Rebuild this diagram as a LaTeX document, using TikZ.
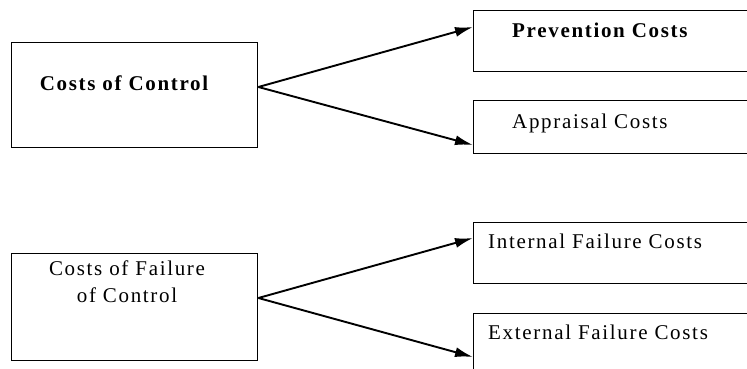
\documentclass[tikz,border=0pt]{standalone}
\usepackage{fontspec}
\setmainfont{Liberation Serif}[LetterSpace=8]
\usetikzlibrary{arrows.meta}
\tikzset{
  box/.style={draw=black, line width=1.4pt, rectangle, inner sep=0pt, anchor=north west},
  lbl/.style={inner sep=0pt, font=\fontsize{21}{27}\selectfont},
  arr/.style={line width=1.9pt, -{Latex[length=18pt,width=10pt]}}
}
\begin{document}
\begin{tikzpicture}[x=1pt,y=-1pt]
\clip (0,0) rectangle (747,369);
\fill[white] (0,0) rectangle (747,369);
% left boxes
\node[box, minimum width=246pt, minimum height=105pt] (cc) at (11,42) {};
\node[box, minimum width=246pt, minimum height=107pt] (cf) at (11,253) {};
% right boxes (open to the right edge)
\node[box, minimum width=300pt, minimum height=61pt] (pc) at (473,10) {};
\node[box, minimum width=300pt, minimum height=53pt] (ac) at (473,100) {};
\node[box, minimum width=300pt, minimum height=61pt] (ic) at (473,222) {};
\node[box, minimum width=300pt, minimum height=80pt] (ec) at (473,313) {};
% texts
\node[lbl, anchor=base, font=\fontsize{21}{27}\selectfont\bfseries] (tcc) at (124,91) {Costs of Control};
\node[lbl, anchor=base, align=center] (tcf) at (127,302) {Costs of Failure\\of Control};
\node[lbl, anchor=base west, font=\fontsize{21}{27}\selectfont\bfseries] (tpc) at (512,38) {Prevention Costs};
\node[lbl, anchor=base west] (tac) at (512,128) {Appraisal Costs};
\node[lbl, anchor=base west] (tic) at (488,248) {Internal Failure Costs};
\node[lbl, anchor=base west] (tec) at (488,339) {External Failure Costs};
% connector ends
\coordinate (o1) at (cc.east |- 0,87);
\coordinate (o2) at (cf.east |- 0,298);
\coordinate (e1) at (pc.west |- 0,27);
\coordinate (e2) at (ac.west |- 0,145);
\coordinate (e3) at (ic.west |- 0,238);
\coordinate (e4) at (ec.west |- 0,357);
\draw[arr] (o1) -- (e1);
\draw[arr] (o1) -- (e2);
\draw[arr] (o2) -- (e3);
\draw[arr] (o2) -- (e4);
\end{tikzpicture}
\end{document}
